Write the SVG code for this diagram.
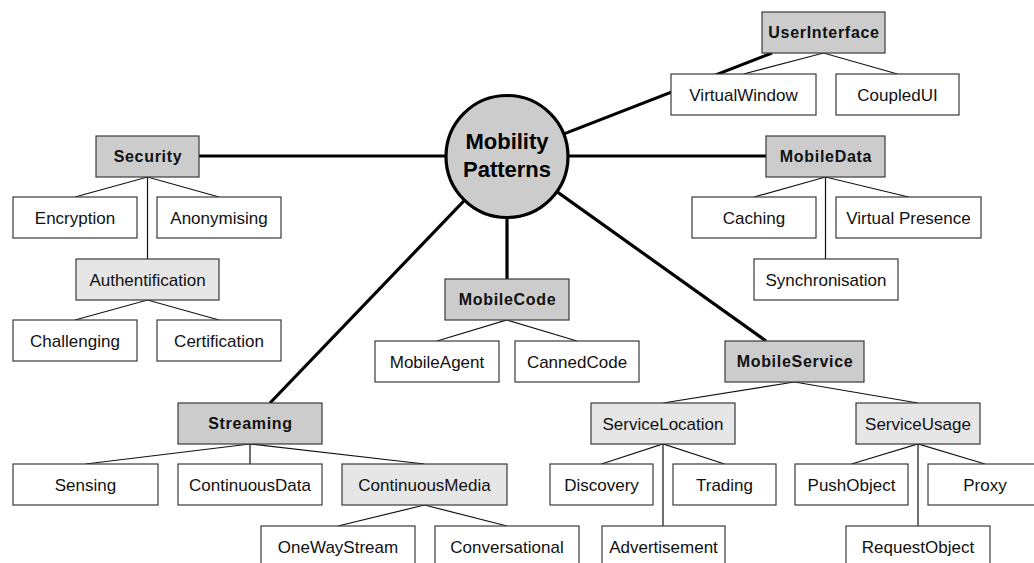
<svg xmlns="http://www.w3.org/2000/svg" width="1034" height="563" viewBox="0 0 1034 563">
<style>
.b{stroke:#3a3a3a;stroke-width:1.2;fill:#fff}
.d{fill:#cccccc}
.l{fill:#e6e6e6}
.t{font-family:"Liberation Sans",Arial,sans-serif;font-size:17px;fill:#111;text-anchor:middle}
.bt{font-family:"Liberation Sans",Arial,sans-serif;font-size:16px;font-weight:bold;letter-spacing:0.7px;fill:#111;text-anchor:middle}
.thin{stroke:#111;stroke-width:1.2;fill:none}
.thick{stroke:#000;stroke-width:3.2;fill:none}
</style>
<rect width="1034" height="563" fill="#fff"/>
<g id="connectors">
<line class="thick" x1="199" y1="156" x2="507" y2="156"/>
<line class="thick" x1="507" y1="156" x2="766" y2="156"/>
<line class="thick" x1="507" y1="156" x2="772" y2="53"/>
<line class="thick" x1="507" y1="156" x2="507" y2="279"/>
<line class="thick" x1="507" y1="156" x2="270" y2="403"/>
<line class="thick" x1="507" y1="156" x2="766" y2="341"/>
<polyline class="thin" points="75,197 147.5,177 219,197"/>
<line class="thin" x1="147.5" y1="177" x2="147.5" y2="259"/>
<polyline class="thin" points="75,320 147.5,300 219,320"/>
<polyline class="thin" points="743.5,74 823.5,53 897.5,74"/>
<polyline class="thin" points="754,197 825.5,177 908.5,197"/>
<line class="thin" x1="825.5" y1="177" x2="825.5" y2="259"/>
<polyline class="thin" points="437,341 507,320 577,341"/>
<polyline class="thin" points="85.5,464 250,444 424.5,464"/>
<line class="thin" x1="250" y1="444" x2="250" y2="464"/>
<polyline class="thin" points="338,526 424.5,505 507,526"/>
<polyline class="thin" points="663,403 794.5,382 918,403"/>
<polyline class="thin" points="601.5,464 663,444 724.5,464"/>
<line class="thin" x1="663" y1="444" x2="663" y2="526"/>
<polyline class="thin" points="851.5,464 918,444 985,464"/>
<line class="thin" x1="918" y1="444" x2="918" y2="526"/>
</g>
<g id="root">
<circle cx="507" cy="156.5" r="61" fill="#cccccc" stroke="#000" stroke-width="3.2"/>
<text x="507" y="149" font-family="Liberation Sans,Arial,sans-serif" font-size="22" font-weight="bold" text-anchor="middle" fill="#000">Mobility</text>
<text x="507" y="177" font-family="Liberation Sans,Arial,sans-serif" font-size="22" font-weight="bold" text-anchor="middle" fill="#000">Patterns</text>
</g>
<g id="UserInterface"><rect class="b d" x="762" y="12" width="123" height="41"/><text class="bt" x="824" y="38">UserInterface</text></g>
<g id="Security"><rect class="b d" x="96" y="136" width="103" height="41"/><text class="bt" x="148" y="162">Security</text></g>
<g id="MobileData"><rect class="b d" x="766" y="136" width="119" height="41"/><text class="bt" x="826" y="162">MobileData</text></g>
<g id="MobileCode"><rect class="b d" x="445" y="279" width="124" height="41"/><text class="bt" x="507.5" y="305">MobileCode</text></g>
<g id="MobileService"><rect class="b d" x="725" y="341" width="139" height="41"/><text class="bt" x="795" y="367">MobileService</text></g>
<g id="Streaming"><rect class="b d" x="178" y="403" width="144" height="41"/><text class="bt" x="250.5" y="429">Streaming</text></g>
<g id="Authentification"><rect class="b l" x="76" y="259" width="143" height="41"/><text class="t" x="147.5" y="285.5">Authentification</text></g>
<g id="ContinuousMedia"><rect class="b l" x="342" y="464" width="165" height="41"/><text class="t" x="424.5" y="490.5">ContinuousMedia</text></g>
<g id="ServiceLocation"><rect class="b l" x="591" y="403" width="144" height="41"/><text class="t" x="663" y="429.5">ServiceLocation</text></g>
<g id="ServiceUsage"><rect class="b l" x="856" y="403" width="124" height="41"/><text class="t" x="918" y="429.5">ServiceUsage</text></g>
<g id="VirtualWindow"><rect class="b" x="671" y="74" width="145" height="41"/><text class="t" x="743.5" y="100.5">VirtualWindow</text></g>
<g id="CoupledUI"><rect class="b" x="836" y="74" width="123" height="41"/><text class="t" x="897.5" y="100.5">CoupledUI</text></g>
<g id="Encryption"><rect class="b" x="13" y="197" width="124" height="41"/><text class="t" x="75" y="223.5">Encryption</text></g>
<g id="Anonymising"><rect class="b" x="157" y="197" width="124" height="41"/><text class="t" x="219" y="223.5">Anonymising</text></g>
<g id="Caching"><rect class="b" x="692" y="197" width="124" height="41"/><text class="t" x="754" y="223.5">Caching</text></g>
<g id="VirtualPresence"><rect class="b" x="836" y="197" width="145" height="41"/><text class="t" x="908.5" y="223.5">Virtual Presence</text></g>
<g id="Synchronisation"><rect class="b" x="754" y="259" width="144" height="41"/><text class="t" x="826" y="285.5">Synchronisation</text></g>
<g id="Challenging"><rect class="b" x="13" y="320" width="124" height="41"/><text class="t" x="75" y="346.5">Challenging</text></g>
<g id="Certification"><rect class="b" x="157" y="320" width="124" height="41"/><text class="t" x="219" y="346.5">Certification</text></g>
<g id="MobileAgent"><rect class="b" x="375" y="341" width="124" height="41"/><text class="t" x="437" y="367.5">MobileAgent</text></g>
<g id="CannedCode"><rect class="b" x="515" y="341" width="124" height="41"/><text class="t" x="577" y="367.5">CannedCode</text></g>
<g id="Sensing"><rect class="b" x="13" y="464" width="145" height="41"/><text class="t" x="85.5" y="490.5">Sensing</text></g>
<g id="ContinuousData"><rect class="b" x="178" y="464" width="144" height="41"/><text class="t" x="250" y="490.5">ContinuousData</text></g>
<g id="Discovery"><rect class="b" x="550" y="464" width="103" height="41"/><text class="t" x="601.5" y="490.5">Discovery</text></g>
<g id="Trading"><rect class="b" x="673" y="464" width="103" height="41"/><text class="t" x="724.5" y="490.5">Trading</text></g>
<g id="PushObject"><rect class="b" x="795" y="464" width="113" height="41"/><text class="t" x="851.5" y="490.5">PushObject</text></g>
<g id="Proxy"><rect class="b" x="928" y="464" width="114" height="41"/><text class="t" x="985" y="490.5">Proxy</text></g>
<g id="OneWayStream"><rect class="b" x="261" y="526" width="154" height="41"/><text class="t" x="338" y="552.5">OneWayStream</text></g>
<g id="Conversational"><rect class="b" x="435" y="526" width="144" height="41"/><text class="t" x="507" y="552.5">Conversational</text></g>
<g id="Advertisement"><rect class="b" x="602" y="526" width="123" height="41"/><text class="t" x="663.5" y="552.5">Advertisement</text></g>
<g id="RequestObject"><rect class="b" x="846" y="526" width="144" height="41"/><text class="t" x="918" y="552.5">RequestObject</text></g>
</svg>
